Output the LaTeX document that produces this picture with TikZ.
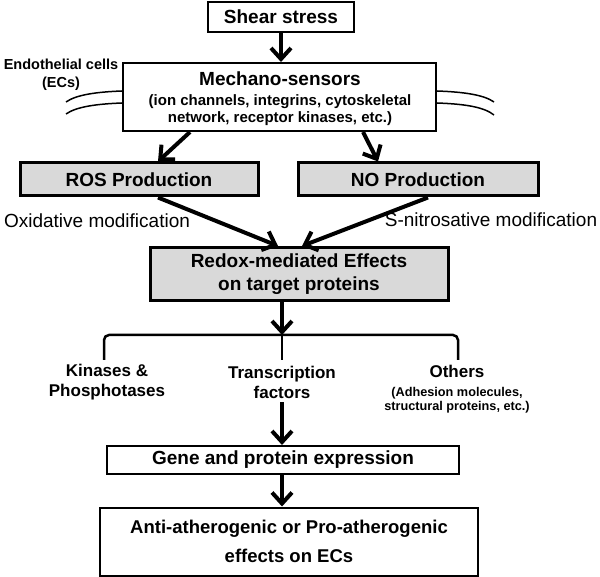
\documentclass[tikz,border=0pt]{standalone}
\usepackage{fontspec}
\setmainfont{Liberation Sans}
\usetikzlibrary{arrows.meta,calc}
\newcommand{\subf}{\fontsize{15}{17}\selectfont}
\newcommand{\smallf}{\fontsize{12.7}{14}\selectfont}
\begin{document}
\begin{tikzpicture}[x=1pt,y=-1pt,
 wbox/.style={draw, line width=2pt, fill=white, inner sep=0pt, align=center, font=\bfseries\fontsize{19}{23}\selectfont},
 gbox/.style={wbox, line width=3pt, fill=gray!30},
 arr/.style={line width=4pt, -{Straight Barb[length=11pt,width=20pt]}},
 lbl/.style={inner sep=0pt, align=center, font=\bfseries\fontsize{17}{20}\selectfont},
 plain/.style={inner sep=0pt, font=\fontsize{19}{22}\selectfont},
 memb/.style={line width=1.5pt},
 brace/.style={line width=2.5pt, rounded corners=5pt}
]
\useasboundingbox (0,0) rectangle (600,577);

% boxes
\node[wbox, minimum width=313pt, minimum height=68pt] (mech) at (279.5,97) {};
\node[inner sep=0pt, align=center, font=\bfseries\fontsize{19}{23}\selectfont] (mechtxt) at (280,98.5)
  {Mechano-sensors\\[-3pt]\subf (ion channels, integrins, cytoskeletal\\[-6pt]\subf network, receptor kinases, etc.)};
\node[wbox, minimum width=146pt, minimum height=30pt] (shear) at (281,17) {Shear stress};
\node[gbox, minimum width=238pt, minimum height=33pt] (ros) at (139,179.5) {ROS Production};
\node[gbox, minimum width=240pt, minimum height=33pt] (no) at (418,179.5) {NO Production};
\node[gbox, minimum width=298pt, minimum height=53pt] (redox) at (299,274) {Redox-mediated Effects\\on target proteins};
\node[wbox, minimum width=352pt, minimum height=28pt] (gene) at (283,460) {Gene and protein expression};
\node[wbox, minimum width=378pt, minimum height=68pt, font=\bfseries\fontsize{18.5}{29}\selectfont] (anti) at (289,541.5)
  {Anti-atherogenic or Pro-atherogenic\\effects on ECs};

% labels
\node[lbl, font=\bfseries\fontsize{14.5}{18}\selectfont] (ec) at (61,75) {Endothelial cells\\(ECs)};
\node[plain] (ox) at (97,221) {Oxidative modification};
\node[plain] (sn) at (491,220) {S-nitrosative modification};
\node[lbl] (kin) at (107,382) {Kinases \&\\Phosphotases};
\node[lbl] (tf) at (282,382) {Transcription\\factors};
\node[lbl, anchor=north] (oth) at (457,365) {Others\\[-1pt]\smallf (Adhesion molecules,\\[-6pt]\smallf structural proteins, etc.)};

% membranes
\draw[memb] (mech.west |- 0,91) .. controls (95,92) and (76,95) .. (66,102);
\draw[memb] (mech.west |- 0,103) .. controls (95,104) and (76,107) .. (66,114);
\draw[memb] (mech.east |- 0,91) .. controls (465,92) and (484,95) .. (494,102);
\draw[memb] (mech.east |- 0,103) .. controls (465,104) and (484,107) .. (494,115);

% arrows
\draw[arr] (shear.south) -- (shear.south |- mech.north);
\draw[arr] (mech.south -| 190,0) -- (ros.north -| 158,0);
\draw[arr] (mech.south -| 363,0) -- (no.north -| 378,0);
\draw[arr] (ros.south -| 158,0) -- (redox.north -| 278,0);
\draw[arr] (no.south -| 428,0) -- (redox.north -| 302,0);

\coordinate (br) at (282,335);
\coordinate (bl) at (104,360);
\coordinate (bc) at (282,360);
\coordinate (brr) at (458,360);
\draw[arr] (redox.south -| br) -- (br);
\draw[brace] (bl) |- (br) -| (brr);
\draw[line width=2.5pt] (br) -- (bc);

\draw[arr] ([yshift=-4pt]tf.south) -- (tf.south |- gene.north);
\draw[arr] (gene.south -| br) -- (anti.north -| br);
\end{tikzpicture}
\end{document}
